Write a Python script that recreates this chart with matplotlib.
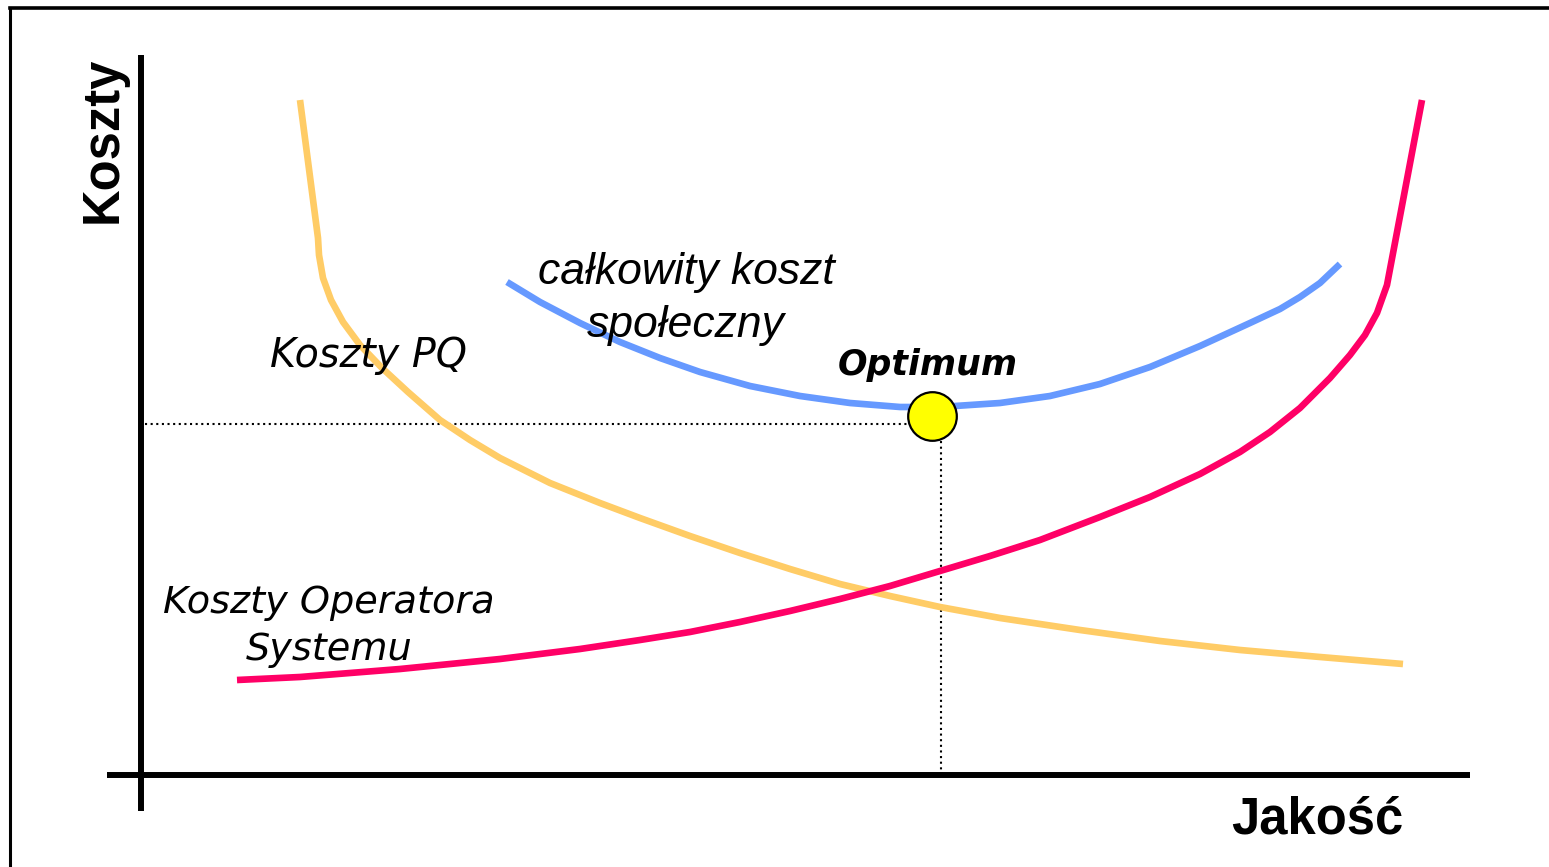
import matplotlib
matplotlib.use("Agg")
import matplotlib.pyplot as plt
from matplotlib.lines import Line2D

# ---------------- data (units: pixels measured from the axis origin, x right, y up) ----------------
# Koszty PQ (yellow)
pq_x = [159, 177, 178, 182, 190, 202, 219, 241, 267, 299, 329, 359, 409, 459, 499, 549,
        599, 649, 699, 749, 799, 859, 939, 1019, 1099, 1179, 1262]
pq_y = [675, 537, 520, 497, 475, 453, 430, 407, 383, 355, 335, 317, 292, 272, 257, 239,
        222, 206, 191, 179, 168, 157, 145, 134, 125, 118, 111]

# Koszty Operatora Systemu (red)
op_x = [96, 159, 259, 359, 439, 499, 549, 599, 649, 699, 749, 799, 849, 899, 959, 1009,
        1059, 1099, 1129, 1159, 1189, 1209, 1224, 1236, 1246, 1281]
op_y = [95, 98, 106, 116, 126, 135, 143, 153, 164, 176, 189, 204, 219, 235, 258, 278,
        301, 323, 343, 367, 397, 420, 440, 462, 490, 675]

# całkowity koszt społeczny (blue)
tot_x = [366, 399, 439, 479, 519, 559, 609, 659, 709, 759, 799, 859, 909, 959, 1009,
         1059, 1109, 1139, 1159, 1179, 1199]
tot_y = [493, 473, 452, 433, 417, 403, 389, 379, 372, 368, 368, 372, 379, 391, 408,
         429, 452, 466, 478, 492, 511]

# Optimum point
opt_x = [791]
opt_y = [359]
opt_cost = 351          # level of the horizontal guide
opt_quality = 800       # position of the vertical guide

labels = {
    "y_axis": "Koszty",
    "x_axis": "Jakość",
    "total": "całkowity koszt\nspołeczny",
    "pq": "Koszty PQ",
    "operator": "Koszty Operatora\nSystemu",
    "optimum": "Optimum",
}

# ---------------- figure ----------------
W, H = 1549, 867
OX, OY = 141, 775  # pixel position of the origin
fig = plt.figure(figsize=(W / 100, H / 100), dpi=100)
fig.patch.set_facecolor("white")
ax = fig.add_axes([0, 0, 1, 1])
ax.set_xlim(-OX, W - OX)
ax.set_ylim(OY - H, OY)
ax.axis("off")

# outer frame (left and top edges)
fig.add_artist(Line2D([10 / W, 10 / W], [0, 1 - 8 / H], color="black", lw=2.2,
                      transform=fig.transFigure))
fig.add_artist(Line2D([10 / W, 1], [1 - 8 / H, 1 - 8 / H], color="black", lw=2.6,
                      transform=fig.transFigure))

# axes lines
ax.plot([-34, 1329], [0, 0], color="black", lw=4.3, solid_capstyle="butt")
ax.plot([0, 0], [-36, 720], color="black", lw=4.3, solid_capstyle="butt")

# guide lines
ax.plot([4, opt_x[0] - 24], [opt_cost, opt_cost], color="black", lw=1.5,
        linestyle=(0, (1, 1.7)))
ax.plot([opt_quality, opt_quality], [0, opt_y[0] - 24], color="black", lw=1.5,
        linestyle=(0, (1, 1.7)))

# curves
lw = 4.8
ax.plot(pq_x, pq_y, color="#FFCC66", lw=lw, solid_capstyle="butt", solid_joinstyle="round")
ax.plot(op_x, op_y, color="#FF0066", lw=lw, solid_capstyle="butt", solid_joinstyle="round")
ax.plot(tot_x, tot_y, color="#6699FF", lw=lw, solid_capstyle="butt", solid_joinstyle="round")

# optimum marker
ax.plot(opt_x, opt_y, marker="o", markersize=35, markerfacecolor="#FFFF00",
        markeredgecolor="black", markeredgewidth=1.6, linestyle="none", zorder=5)

# texts
ax.text(-38, 635, labels["y_axis"], rotation=90, ha="center", va="center",
        fontsize=36.5, fontweight="bold", family="Liberation Sans")
ax.text(1176, -58, labels["x_axis"], ha="center", va="baseline",
        fontsize=36.5, fontweight="bold", family="Liberation Sans")
ax.text(545, 438, labels["total"], ha="center", va="baseline", fontsize=32,
        style="italic", family="Liberation Sans", linespacing=1.36)
ax.text(228, 408, labels["pq"], ha="center", va="baseline", fontsize=28.5,
        style="italic", family="DejaVu Sans")
ax.text(188, 115, labels["operator"], ha="center", va="baseline", fontsize=27.5,
        style="italic", family="DejaVu Sans", linespacing=1.38)
ax.text(787, 400, labels["optimum"], ha="center", va="baseline", fontsize=25,
        style="italic", fontweight="bold", family="DejaVu Sans")

fig.savefig("out.png", dpi=100, facecolor="white")
